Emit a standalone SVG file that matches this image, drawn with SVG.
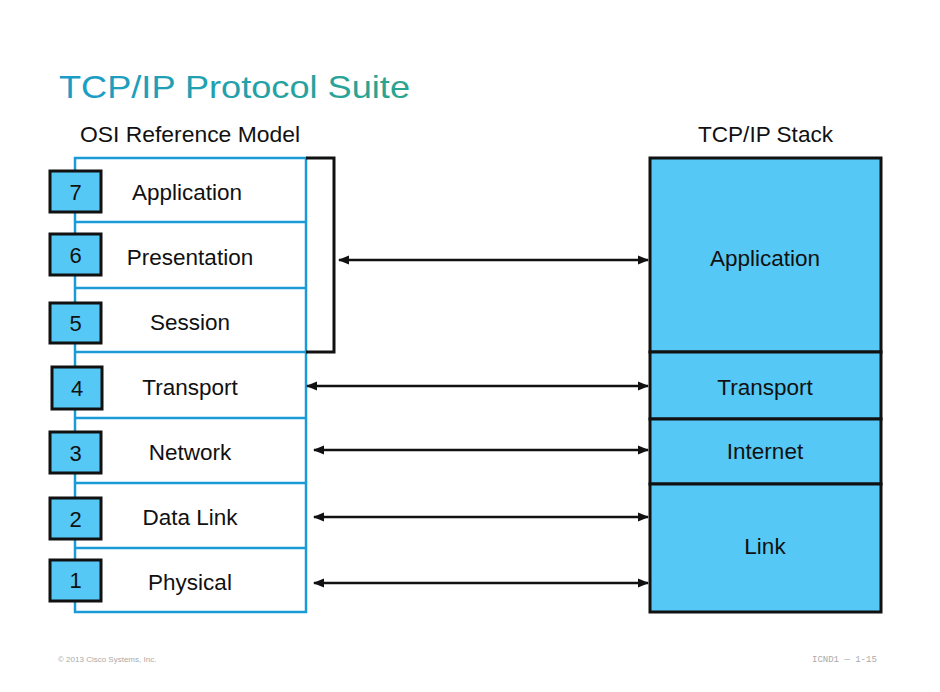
<svg xmlns="http://www.w3.org/2000/svg" width="940" height="692" viewBox="0 0 940 692">
<style>
text{font-family:"Liberation Sans",Arial,sans-serif;fill:#111}
.lbl{font-size:22.5px;text-anchor:middle}
.num{font-size:22px;text-anchor:middle}
.osi{fill:#fff;stroke:#1a9ad6;stroke-width:2.5}
.nb{fill:#55c8f5;stroke:#111;stroke-width:3}
.tcp{fill:#55c8f5;stroke:#111;stroke-width:3}
.arr{stroke:#111;stroke-width:2.5;fill:none;marker-start:url(#ah);marker-end:url(#ah)}
</style>
<defs>
<linearGradient id="tg" x1="0" y1="0" x2="1" y2="0">
<stop offset="0" stop-color="#1b9cc8"/>
<stop offset="1" stop-color="#2ba58c"/>
</linearGradient>
<marker id="ah" viewBox="0 0 10 10" refX="9" refY="5" markerWidth="4.5" markerHeight="4.5" orient="auto-start-reverse">
<path d="M0,1 L10,5 L0,9 Z" fill="#111"/>
</marker>
</defs>
<rect width="940" height="692" fill="#fff"/>
<text x="59" y="98" style="font-size:32px;fill:url(#tg)" textLength="351" lengthAdjust="spacingAndGlyphs">TCP/IP Protocol Suite</text>
<text x="80" y="142" style="font-size:22px" textLength="220" lengthAdjust="spacingAndGlyphs">OSI Reference Model</text>
<text x="698" y="142" style="font-size:22px" textLength="135" lengthAdjust="spacingAndGlyphs">TCP/IP Stack</text>

<g id="osi-model">
<rect class="osi" x="75" y="158" width="231" height="454"/>
<path d="M75 222H306M75 288H306M75 352H306M75 418H306M75 483H306M75 548H306" stroke="#1a9ad6" stroke-width="2.5"/>
</g>
<g id="bracket"><path d="M306 158H334V352H306" fill="none" stroke="#111" stroke-width="3"/></g>

<g id="osi7"><rect class="nb" x="50" y="171" width="51" height="41"/><text class="num" x="75.5" y="200">7</text><text class="lbl" x="187" y="200">Application</text></g>
<g id="osi6"><rect class="nb" x="50" y="234" width="51" height="41"/><text class="num" x="75.5" y="263">6</text><text class="lbl" x="190" y="265">Presentation</text></g>
<g id="osi5"><rect class="nb" x="50" y="303" width="51" height="40"/><text class="num" x="75.5" y="331">5</text><text class="lbl" x="190" y="330">Session</text></g>
<g id="osi4"><rect class="nb" x="52" y="367" width="50" height="42"/><text class="num" x="77" y="396">4</text><text class="lbl" x="190" y="395">Transport</text></g>
<g id="osi3"><rect class="nb" x="50" y="432" width="51" height="41"/><text class="num" x="75.5" y="461">3</text><text class="lbl" x="190" y="460">Network</text></g>
<g id="osi2"><rect class="nb" x="50" y="498" width="51" height="41"/><text class="num" x="75.5" y="527">2</text><text class="lbl" x="190" y="525">Data Link</text></g>
<g id="osi1"><rect class="nb" x="50" y="560" width="51" height="41"/><text class="num" x="75.5" y="588">1</text><text class="lbl" x="190" y="590">Physical</text></g>

<g id="tcp-app"><rect class="tcp" x="650" y="158" width="231" height="194"/><text class="lbl" x="765" y="266">Application</text></g>
<g id="tcp-transport"><rect class="tcp" x="650" y="352" width="231" height="67"/><text class="lbl" x="765" y="395">Transport</text></g>
<g id="tcp-internet"><rect class="tcp" x="650" y="419" width="231" height="65"/><text class="lbl" x="765" y="459">Internet</text></g>
<g id="tcp-link"><rect class="tcp" x="650" y="484" width="231" height="128"/><text class="lbl" x="765" y="554">Link</text></g>

<g id="connectors">
<line class="arr" x1="339" y1="260" x2="648" y2="260"/>
<line class="arr" x1="307" y1="386" x2="648" y2="386"/>
<line class="arr" x1="314" y1="450" x2="648" y2="450"/>
<line class="arr" x1="314" y1="517" x2="648" y2="517"/>
<line class="arr" x1="314" y1="583" x2="648" y2="583"/>
</g>

<text x="58" y="662" style="font-size:8px;fill:#aaa">© 2013 Cisco Systems, Inc.</text>
<text x="812" y="662" style="font-size:9px;fill:#aaa;font-family:'Liberation Mono',monospace">ICND1 — 1-15</text>
</svg>
